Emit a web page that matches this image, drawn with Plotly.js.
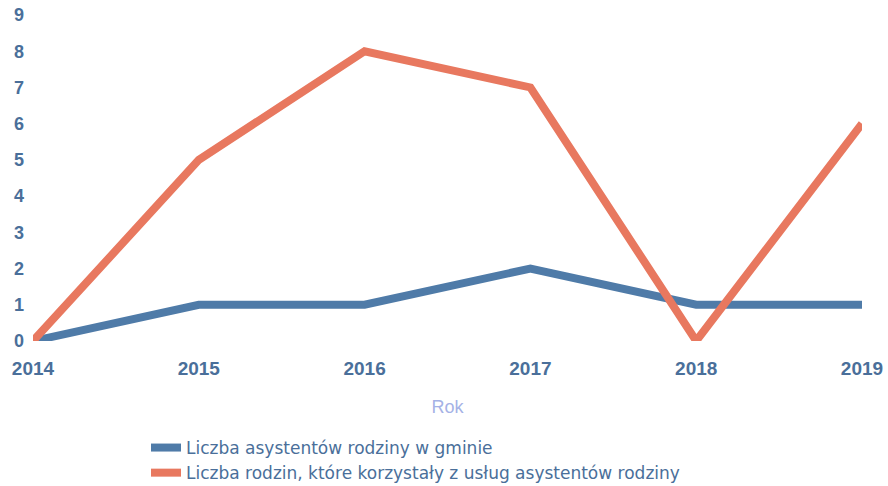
<!DOCTYPE html>
<html>
<head>
<meta charset="utf-8">
<script src="https://cdn.plot.ly/plotly-3.0.1.min.js"></script>
<style>html,body{margin:0;padding:0;background:#fff;}#chart{width:888px;height:486px;}</style>
</head>
<body>
<div id="chart"></div>
<script>
const years = [2014, 2015, 2016, 2017, 2018, 2019];
const assistants = [0, 1, 1, 2, 1, 1];
const families = [0, 5, 8, 7, 0, 6];
const seriesNames = ["Liczba asystentów rodziny w gminie", "Liczba rodzin, które korzystały z usług asystentów rodziny"];
const yTicks = [0, 1, 2, 3, 4, 5, 6, 7, 8, 9];
const xTitle = "Rok";

const tickColor = "#4a6f9a";
const traces = [
  {x: years, y: assistants, name: seriesNames[0], type: "scatter", mode: "lines",
   line: {color: "#4f7ba8", width: 8}, cliponaxis: false},
  {x: years, y: families, name: seriesNames[1], type: "scatter", mode: "lines",
   line: {color: "#e8785f", width: 8}, cliponaxis: false}
];
const layout = {
  width: 888, height: 486,
  margin: {l: 33, r: 26, t: 15, b: 145, autoexpand: false},
  paper_bgcolor: "#fff", plot_bgcolor: "#fff",
  font: {family: "Liberation Sans, Arial, sans-serif", color: tickColor},
  showlegend: true,
  legend: {orientation: "v", xref: "container", yref: "container",
           x: 146 / 888, xanchor: "left", y: 1 - 430 / 486, yanchor: "top",
           font: {size: 17, family: "DejaVu Sans, sans-serif", color: tickColor},
           tracegroupgap: 0, itemwidth: 30, bgcolor: "rgba(0,0,0,0)"},
  xaxis: {range: [2014, 2019], tickvals: years, ticktext: years.map(String),
          showgrid: false, zeroline: false, showline: false, ticks: "",
          automargin: false, ticklabelstandoff: 14,
          tickfont: {size: 19, family: "Liberation Sans, Arial, sans-serif", color: tickColor, weight: "bold"},
          title: {text: xTitle, font: {size: 18, color: "#a5b2e6"}, standoff: 22}},
  yaxis: {range: [0, 9], tickvals: yTicks, showgrid: false, zeroline: false, showline: false, ticks: "",
          automargin: false,
          tickfont: {size: 18, family: "Liberation Sans, Arial, sans-serif", color: tickColor, weight: "bold"},
          ticklabelstandoff: 8}
};
Plotly.newPlot("chart", traces, layout, {displayModeBar: false, staticPlot: true});
</script>
</body>
</html>
